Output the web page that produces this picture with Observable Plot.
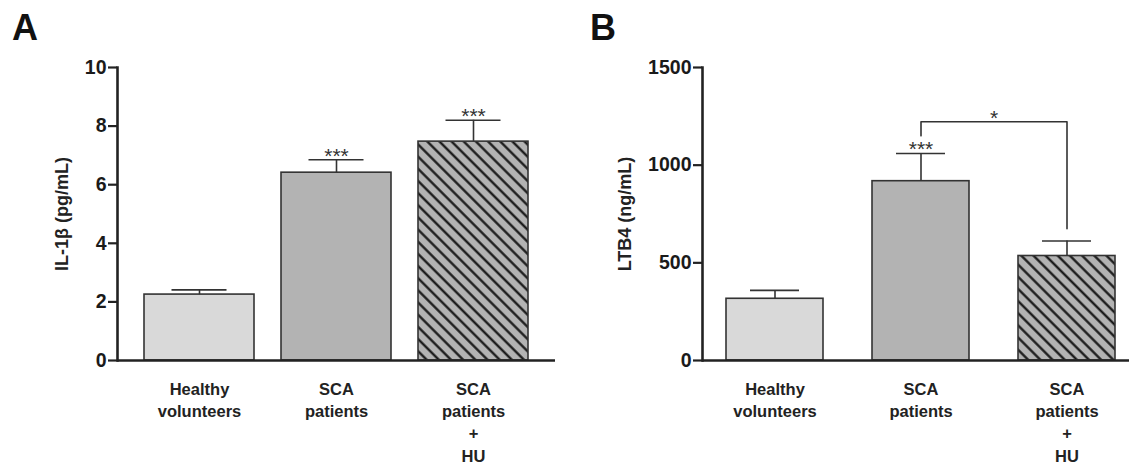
<!DOCTYPE html>
<html><head><meta charset="utf-8">
<script src="https://cdn.jsdelivr.net/npm/d3@7"></script>
<script src="https://cdn.jsdelivr.net/npm/@observablehq/plot@0.6"></script>
<style>
body{margin:0;background:#fff;font-family:"Liberation Sans",Arial,sans-serif;}
#wrap{position:relative;width:1129px;height:465px;display:flex;overflow:hidden;}
.panel{position:absolute;top:10px;font-weight:bold;font-size:36px;line-height:1;color:#111;font-family:"Liberation Sans",Arial,sans-serif;}
</style></head><body>
<div id="wrap"></div>
<script>
const categories = ["Healthy volunteers", "SCA patients", "SCA patients + HU"];
const tickLabelsX = ["Healthy\nvolunteers", "SCA\npatients", "SCA\npatients\n+\nHU"];
const panelLetters = ["A", "B"];
const il1bMean = [2.25, 6.41, 7.47];
const il1bSem = [0.16, 0.44, 0.73];
const il1bStars = ["", "***", "***"];
const ltb4Mean = [316, 918, 535];
const ltb4Sem = [43, 142, 77];
const ltb4Stars = ["", "***", ""];
const barFills = ["#d9d9d9", "#b3b3b3", "hatch"];
const yTicksA = [0, 2, 4, 6, 8, 10];
const yTicksB = [0, 500, 1000, 1500];
const yLabelA = "IL-1β (pg/mL)";
const yLabelB = "LTB4 (ng/mL)";
const bracketX = ["SCA patients", "SCA patients", "SCA patients + HU", "SCA patients + HU"];
const bracketY = [1150, 1222, 1222, 675];
const bracketStar = ["*"];

function makePanel(o) {
  const id = o.id;
  const data = categories.map((c, i) => ({
    c, mean: o.mean[i], top: o.mean[i] + o.sem[i], star: o.stars[i],
    fill: barFills[i] === "hatch" ? `url(#hatch${id})` : barFills[i]
  }));
  const defs = () => {
    const g = d3.create("svg:defs");
    const s = 8.6;
    const p = g.append("pattern").attr("id", "hatch" + id).attr("patternUnits", "userSpaceOnUse")
      .attr("width", s).attr("height", s).attr("patternTransform", "rotate(45)");
    p.append("rect").attr("width", s).attr("height", s).attr("fill", "#b3b3b3");
    p.append("line").attr("x1", 0).attr("x2", s).attr("y1", s / 2).attr("y2", s / 2)
      .attr("stroke", "#111").attr("stroke-width", 2.2);
    return g.node();
  };
  const xOpts = {domain: categories, paddingInner: o.padInner, paddingOuter: o.padOuter, axis: null};
  if (o.xRange) xOpts.range = o.xRange;
  const marks = [
    defs,
    Plot.barY(data, {x: "c", y: "mean", fill: "fill", stroke: "#333", strokeWidth: 1.6}),
    Plot.ruleX(data, {x: "c", y1: "mean", y2: "top", stroke: "#333", strokeWidth: 1.6}),
    Plot.tickY(data, {x: "c", y: "top", stroke: "#333", strokeWidth: 1.6, insetLeft: o.capInset, insetRight: o.capInset}),
    Plot.text(data, {x: "c", y: "top", text: "star", lineAnchor: "bottom", dy: 3, fontSize: 21, fill: "#333", ariaLabel: "stars"}),
    Plot.axisY({ticks: o.yTicks, tickFormat: d3.format("d"), tickSize: 9, tickPadding: 2, fontSize: 19.5, fontWeight: "bold", label: null, stroke: "#222", strokeWidth: 2.2, fill: "#1a1a1a", ariaLabel: "yticks"}),
    Plot.axisX({tickFormat: d => tickLabelsX[categories.indexOf(d)], label: null, tickSize: 0, tickPadding: 19, fontSize: 16.5, fontWeight: "bold", lineHeight: 1.34, fill: "#222", ariaLabel: "xlabels"}),
    Plot.text([o.yLabel], {frameAnchor: "left", textAnchor: "middle", text: d => d, rotate: -90, dx: o.labelDx, fontSize: 18, fontWeight: "bold", fill: "#222", ariaLabel: "ylabel"}),
    Plot.ruleY([0], {stroke: "#222", strokeWidth: 2.6}),
    Plot.frame({anchor: "left", stroke: "#222", strokeWidth: 2.6})
  ];
  if (o.extra) marks.push(...o.extra);
  const svg = Plot.plot({
    width: o.width, height: 465, marginTop: 67, marginBottom: 105,
    marginLeft: o.marginLeft, marginRight: o.marginRight,
    style: {fontFamily: "'Liberation Sans', Arial, sans-serif", background: "transparent", color: "#222", overflow: "visible"},
    x: xOpts,
    y: {domain: o.yDomain, axis: null},
    color: {type: "identity"},
    marks
  });
  d3.select(svg).selectAll('g[aria-label="xlabels"] text').style("letter-spacing", "1.5px");
  d3.select(svg).selectAll('g[aria-label="ylabel"] text').style("letter-spacing", "1.1px");
  d3.select(svg).selectAll('g[aria-label="yticks"] text').style("letter-spacing", "-0.5px");
  d3.select(svg).selectAll('g[aria-label="stars"] text').style("letter-spacing", "1px");
  return svg;
}

const wrap = document.getElementById("wrap");
wrap.appendChild(makePanel({
  id: "A", width: 565, marginLeft: 117, marginRight: 10,
  padInner: 0.2, padOuter: 0.19, mean: il1bMean, sem: il1bSem, stars: il1bStars,
  yDomain: [0, 10], yTicks: yTicksA, yLabel: yLabelA, labelDx: -55, capInset: 27.5
}));
wrap.appendChild(makePanel({
  id: "B", width: 564, marginLeft: 137, marginRight: 0, xRange: [137, 573.4],
  padInner: 0.335, padOuter: 0.162, mean: ltb4Mean, sem: ltb4Sem, stars: ltb4Stars,
  yDomain: [0, 1500], yTicks: yTicksB, yLabel: yLabelB, labelDx: -77, capInset: 24,
  extra: [
    Plot.line(bracketX.map((x, i) => ({x, y: bracketY[i]})), {x: "x", y: "y", stroke: "#333", strokeWidth: 1.6}),
    Plot.text(bracketStar, {x: () => "SCA patients", y: () => bracketY[1], text: d => d, dx: 73, lineAnchor: "bottom", dy: 3, fontSize: 21, fill: "#333"})
  ]
}));
panelLetters.forEach((t, i) => {
  const d = document.createElement("div");
  d.className = "panel";
  d.textContent = t;
  d.style.left = (i === 0 ? 12 : 590) + "px";
  wrap.appendChild(d);
});
</script>
</body></html>
